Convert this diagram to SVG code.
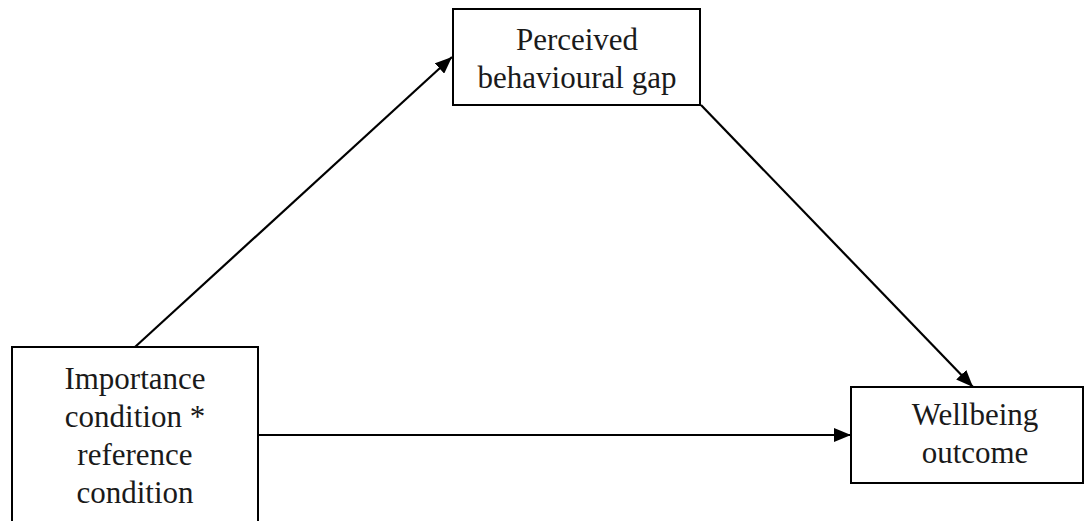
<svg xmlns="http://www.w3.org/2000/svg" width="1085" height="521" viewBox="0 0 1085 521">
<style>
.box{fill:#fff;stroke:#000;stroke-width:2}
.t{font-family:"Liberation Serif","Times New Roman",serif;font-size:31px;fill:#1a1a1a;text-anchor:middle}
.c{stroke:#000;stroke-width:2.2;fill:none}
</style>
<defs>
<marker id="ah" viewBox="0 0 17 14" refX="17" refY="7" markerWidth="17" markerHeight="14" markerUnits="userSpaceOnUse" orient="auto">
<path d="M0,0 L17,7 L0,14 Z" fill="#000"/>
</marker>
</defs>
<rect width="1085" height="521" fill="#fff"/>
<g id="connectors">
<line class="c" x1="135" y1="347" x2="452" y2="57" marker-end="url(#ah)"/>
<line class="c" x1="701" y1="105" x2="973" y2="387" marker-end="url(#ah)"/>
<line class="c" x1="258" y1="435" x2="851" y2="435" marker-end="url(#ah)"/>
</g>
<g id="node-gap">
<rect class="box" x="453" y="9" width="247" height="96"/>
<text class="t" x="577" y="50">Perceived</text>
<text class="t" x="577" y="88">behavioural gap</text>
</g>
<g id="node-importance">
<rect class="box" x="12" y="347" width="246" height="190"/>
<text class="t" x="135" y="389">Importance</text>
<text class="t" x="135" y="427">condition *</text>
<text class="t" x="135" y="465">reference</text>
<text class="t" x="135" y="503">condition</text>
</g>
<g id="node-wellbeing">
<rect class="box" x="851" y="387" width="232" height="96"/>
<text class="t" x="975" y="425">Wellbeing</text>
<text class="t" x="975" y="463">outcome</text>
</g>
</svg>
